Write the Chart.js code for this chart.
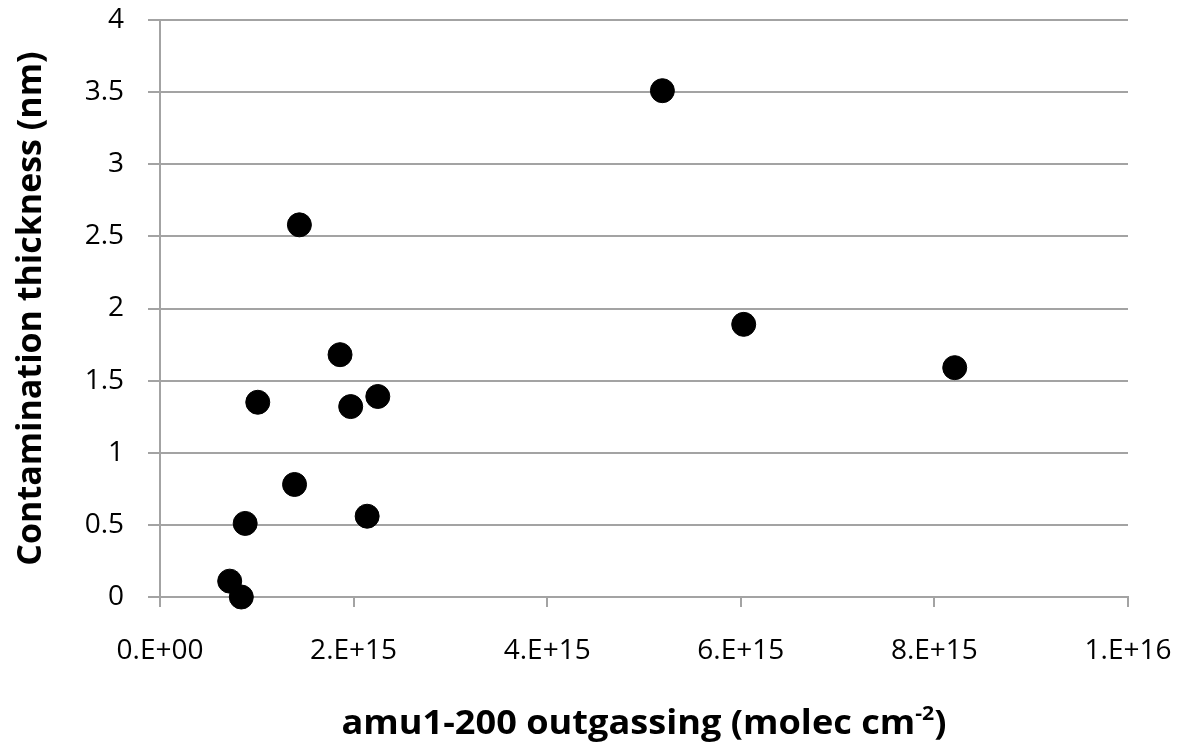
<!DOCTYPE html>
<html>
<head>
<meta charset="utf-8">
<script src="https://cdn.jsdelivr.net/npm/chart.js@4"></script>
<style>
html, body { margin: 0; padding: 0; background: #fff; }
</style>
</head>
<body>
<canvas id="outgasChart" width="1181" height="743"></canvas>
<script>
// amu1-200 outgassing (molec cm-2)
const outgassing = [0.72e15, 0.84e15, 0.88e15, 1.01e15, 1.39e15, 1.44e15, 1.86e15, 1.97e15, 2.14e15, 2.25e15, 5.19e15, 6.03e15, 8.21e15];
// contamination thickness (nm)
const thickness = [0.11, 0.0, 0.51, 1.35, 0.78, 2.58, 1.68, 1.32, 0.56, 1.39, 3.51, 1.89, 1.59];
const xTicks = [0, 2e15, 4e15, 6e15, 8e15, 1e16];
const yTicks = [0, 0.5, 1, 1.5, 2, 2.5, 3, 3.5, 4];

const gridGrey = '#a3a3a3';

// Excel-style "2.E+15"
function sci(v) {
    if (v === 0) return '0.E+00';
    const e = Math.floor(Math.log10(v) + 1e-9);
    const m = Math.round(v / Math.pow(10, e));
    return m + '.E+' + String(e).padStart(2, '0');
}

// x title with a real superscript, slightly widened like the original
const xTitlePlugin = {
    id: 'xTitle',
    afterDraw(chart) {
        const ctx = chart.ctx;
        const big = 'bold 34px "Open Sans"';
        const small = 'bold 20px "Open Sans"';
        const p1 = 'amu1-200 outgassing (molec cm', p2 = '-2', p3 = ')';
        ctx.save();
        ctx.fillStyle = '#000';
        ctx.textBaseline = 'alphabetic';
        ctx.textAlign = 'left';
        ctx.font = big;
        const w1 = ctx.measureText(p1).width, w3 = ctx.measureText(p3).width;
        ctx.font = small;
        const w2 = ctx.measureText(p2).width;
        const total = w1 + w2 + w3;
        const sx = 605 / total;
        const area = chart.chartArea;
        ctx.translate((area.left + area.right) / 2 - 605 / 2, 734);
        ctx.scale(sx, 1);
        let x = 0;
        ctx.font = big;
        ctx.fillText(p1, x, 0); x += w1;
        ctx.font = small;
        ctx.fillText(p2, x, -14); x += w2;
        ctx.font = big;
        ctx.fillText(p3, x, 0);
        ctx.restore();
    }
};

const ctx = document.getElementById('outgasChart').getContext('2d');

const outgasChart = new Chart(ctx, {
    type: 'scatter',
    data: {
        datasets: [{
            data: outgassing.map((x, i) => ({ x: x, y: thickness[i] })),
            backgroundColor: '#000',
            borderColor: '#000',
            borderWidth: 1,
            pointRadius: 12,
            pointHoverRadius: 12,
            clip: false
        }]
    },
    options: {
        responsive: false,
        animation: false,
        layout: { padding: { left: 0, right: 53, top: 20, bottom: 0 } },
        plugins: { legend: { display: false }, tooltip: { enabled: false } },
        scales: {
            x: {
                type: 'linear',
                min: 0,
                max: 1e16,
                afterBuildTicks: s => { s.ticks = xTicks.map(v => ({ value: v })); },
                afterFit: s => { s.height = 146; s.paddingLeft = 0; s.paddingRight = 0; },
                grid: { drawOnChartArea: false, drawTicks: true, tickLength: 10, color: gridGrey, lineWidth: 2 },
                border: { color: gridGrey, width: 2 },
                ticks: {
                    callback: v => sci(v),
                    color: '#000',
                    font: { family: 'Open Sans', size: 28 },
                    padding: 27,
                    maxRotation: 0,
                    autoSkip: false
                },
                title: { display: false }
            },
            y: {
                min: 0,
                max: 4,
                afterBuildTicks: s => { s.ticks = yTicks.map(v => ({ value: v })); },
                afterFit: s => { s.width = 160; s.paddingTop = 0; s.paddingBottom = 0; },
                grid: { color: gridGrey, lineWidth: 2, tickLength: 12 },
                border: { color: gridGrey, width: 2 },
                ticks: {
                    callback: v => String(v),
                    color: '#000',
                    font: { family: 'Open Sans', size: 28 },
                    padding: 24
                },
                title: {
                    display: true,
                    text: 'Contamination thickness (nm)',
                    color: '#000',
                    font: { family: 'Open Sans', size: 34, weight: 'bold' },
                    padding: { top: 11, bottom: 0 }
                }
            }
        }
    },
    plugins: [xTitlePlugin]
});
</script>
</body>
</html>
